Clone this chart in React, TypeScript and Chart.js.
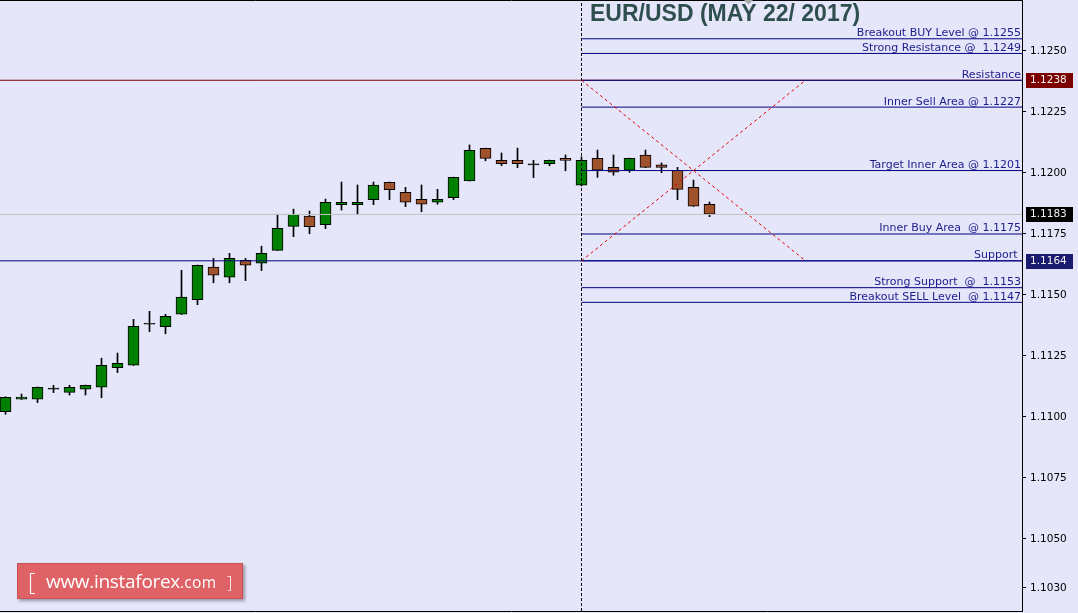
import { useEffect, useRef } from 'react';
import { Chart, registerables } from 'chart.js';

Chart.register(...registerables);

// ---- Candles (index 0..44) ----
const OPEN = [
  1.11022, 1.11073, 1.11073, 1.11114, 1.11101, 1.11114, 1.11122, 1.11202, 1.11212, 1.1138,
  1.1137, 1.11421, 1.11481, 1.11614, 1.11573, 1.11642, 1.1163, 1.11683, 1.11781, 1.11823,
  1.11788, 1.1187, 1.1187, 1.11891, 1.11962, 1.11921, 1.11892, 1.1188, 1.11899, 1.11968,
  1.12101, 1.12052, 1.12052, 1.12033, 1.12038, 1.1206, 1.1195, 1.1206, 1.12023, 1.12012,
  1.12073, 1.12033, 1.12011, 1.11941, 1.11872,
];
const HIGH = [
  1.11083, 1.11094, 1.11123, 1.1113, 1.1113, 1.11131, 1.11241, 1.11262, 1.114, 1.11433,
  1.11421, 1.11601, 1.11623, 1.1165, 1.11671, 1.1165, 1.117, 1.11831, 1.11852, 1.11844,
  1.11893, 1.11963, 1.11951, 1.11963, 1.11963, 1.11941, 1.11951, 1.11933, 1.11983, 1.12115,
  1.12102, 1.12082, 1.12102, 1.12052, 1.12053, 1.12074, 1.12066, 1.12094, 1.12074, 1.12061,
  1.12094, 1.12041, 1.12023, 1.11971, 1.11881,
];
const LOW = [
  1.11011, 1.11072, 1.11059, 1.111, 1.1109, 1.1109, 1.11079, 1.11182, 1.11211, 1.1135,
  1.11341, 1.1142, 1.1146, 1.1155, 1.1155, 1.11559, 1.116, 1.11682, 1.11739, 1.11751,
  1.11772, 1.11848, 1.11829, 1.1187, 1.11891, 1.11862, 1.11841, 1.11872, 1.11891, 1.11967,
  1.1205, 1.1203, 1.12022, 1.11981, 1.1203, 1.12009, 1.11947, 1.11982, 1.11991, 1.12003,
  1.12022, 1.12001, 1.11891, 1.11863, 1.11821,
];
const CLOSE = [
  1.11081, 1.11082, 1.11122, 1.11114, 1.11122, 1.1113, 1.11212, 1.1122, 1.11372, 1.1138,
  1.11413, 1.11491, 1.11622, 1.11581, 1.1165, 1.11622, 1.11671, 1.11773, 1.11831, 1.1178,
  1.1188, 1.1188, 1.1188, 1.1195, 1.11932, 1.1188, 1.11872, 1.11892, 1.11982, 1.12093,
  1.1206, 1.12038, 1.12038, 1.12033, 1.12052, 1.12052, 1.12052, 1.12012, 1.12003, 1.1206,
  1.12023, 1.12023, 1.11933, 1.11864, 1.11831,
];

// ---- Right axis ticks ----
const Y_TICKS = [1.125, 1.1225, 1.12, 1.1175, 1.115, 1.1125, 1.11, 1.1075, 1.105, 1.103];
const Y_MIN = 1.102049;
const Y_MAX = 1.12709;
const X_MIN = -0.34375;
const X_MAX = 63.53125;

// ---- Analysis levels ----
const LEVEL_LABELS = [
  'Breakout BUY Level @ 1.1255',
  'Strong Resistance @  1.1249',
  'Resistance',
  'Inner Sell Area @ 1.1227',
  'Target Inner Area @ 1.1201',
  'Inner Buy Area  @ 1.1175',
  'Support ',
  'Strong Support  @  1.1153',
  'Breakout SELL Level  @ 1.1147',
];
const LEVEL_VALUES = [1.1255, 1.1249, 1.1238, 1.1227, 1.1201, 1.1175, 1.1164, 1.1153, 1.1147];
const RESISTANCE = 1.1238;
const SUPPORT = 1.1164;
const BID = 1.1183;
const MARK_X = 36; // vertical dotted marker / start of level lines
const DIAG_END_X = 50;
const BOX_VALUES = [1.1238, 1.1183, 1.1164];
const BOX_COLORS = ['#7d0000', '#000000', '#1c1c6e'];
const TITLE = 'EUR/USD (MAY 22/ 2017)';

const BG = '#E6E6FA';
const BULL = '#008000';
const BEAR = '#A0522D';
const NAVY = '#000080';

export default function App() {
  const ref = useRef<HTMLCanvasElement>(null);

  useEffect(() => {
    document.body.style.margin = '0';
    const canvas = ref.current!;
    const idx = OPEN.map((_, i) => i);
    const bodyColors = OPEN.map((o, i) => (CLOSE[i] > o ? BULL : CLOSE[i] < o ? BEAR : '#000'));

    const overlay = {
      id: 'overlay',
      afterDraw(chart: any) {
        const { ctx, chartArea, scales } = chart;
        const y = scales.y;
        ctx.save();
        // frame
        ctx.strokeStyle = '#000';
        ctx.lineWidth = 1;
        ctx.beginPath();
        ctx.moveTo(0, chartArea.top + 0.5);
        ctx.lineTo(chartArea.right + 1, chartArea.top + 0.5);
        ctx.moveTo(0, chartArea.bottom + 0.5);
        ctx.lineTo(chartArea.right + 1, chartArea.bottom + 0.5);
        ctx.stroke();

        // shift marker
        ctx.fillStyle = '#a8a8a8';
        ctx.beginPath();
        ctx.moveTo(744, 0);
        ctx.lineTo(753, 0);
        ctx.lineTo(748.5, 4.5);
        ctx.closePath();
        ctx.fill();

        // level labels
        ctx.font = '11px "DejaVu Sans"';
        ctx.fillStyle = '#1c1c8c';
        ctx.textAlign = 'right';
        ctx.textBaseline = 'alphabetic';
        LEVEL_LABELS.forEach((t, i) => {
          const py = y.getPixelForValue(LEVEL_VALUES[i]);
          ctx.fillText(t, chartArea.right - 1, py - 2.5);
        });

        // price boxes on the axis
        ctx.font = '10.5px "DejaVu Sans"';
        ctx.textAlign = 'left';
        ctx.textBaseline = 'middle';
        BOX_VALUES.forEach((v, i) => {
          const py = Math.round(y.getPixelForValue(v));
          ctx.fillStyle = BOX_COLORS[i];
          ctx.fillRect(chartArea.right + 4, py - 7, 47, 15);
          ctx.fillStyle = '#f2f2f2';
          ctx.fillText(v.toFixed(4), chartArea.right + 8, py + 0.5);
        });

        // title
        ctx.font = 'bold 23px "Liberation Sans", Arial, sans-serif';
        ctx.fillStyle = '#2f4f4f';
        ctx.textAlign = 'left';
        ctx.textBaseline = 'alphabetic';
        ctx.fillText(TITLE, 590, 21);
        ctx.restore();
      },
    };

    const lineDs = (data: { x: number; y: number }[], color: string, order: number, dash: number[] = []) => ({
      type: 'line' as const,
      data,
      borderColor: color,
      borderWidth: 1,
      borderDash: dash,
      pointRadius: 0,
      pointHoverRadius: 0,
      fill: false,
      tension: 0,
      order,
    });

    const chart = new Chart(canvas, {
      type: 'bar',
      data: {
        datasets: [
          {
            type: 'bar',
            data: idx.map((i) => ({ x: i, y: [OPEN[i], CLOSE[i]] })) as any,
            backgroundColor: bodyColors,
            borderColor: '#000',
            borderWidth: 1,
            borderSkipped: false,
            barThickness: 11,
            grouped: false,
            minBarLength: 1,
            order: 20,
          } as any,
          {
            type: 'bar',
            data: idx.map((i) => ({ x: i, y: [LOW[i], HIGH[i]] })) as any,
            backgroundColor: '#000',
            borderWidth: 0,
            barThickness: 1,
            grouped: false,
            order: 21,
          } as any,
          lineDs([{ x: X_MIN, y: BID }, { x: X_MAX, y: BID }], '#c0c0c0', 12),
          lineDs([{ x: X_MIN, y: RESISTANCE }, { x: X_MAX, y: RESISTANCE }], '#800000', 11),
          lineDs([{ x: X_MIN, y: SUPPORT }, { x: X_MAX, y: SUPPORT }], NAVY, 11),
          ...LEVEL_VALUES.map((v) => lineDs([{ x: MARK_X, y: v }, { x: X_MAX, y: v }], NAVY, 5)),
          lineDs([{ x: MARK_X, y: RESISTANCE }, { x: DIAG_END_X, y: SUPPORT }], '#e00000', 4, [3, 3]),
          lineDs([{ x: MARK_X, y: SUPPORT }, { x: DIAG_END_X, y: RESISTANCE }], '#e00000', 4, [3, 3]),
          lineDs([{ x: MARK_X, y: Y_MIN }, { x: MARK_X, y: Y_MAX }], '#000', 3, [3, 2]),
        ] as any,
      },
      options: {
        responsive: false,
        devicePixelRatio: 1,
        animation: false,
        events: [],
        layout: { padding: { top: 0, left: 0, right: 0, bottom: 2 } },
        plugins: { legend: { display: false }, tooltip: { enabled: false }, title: { display: false } },
        scales: {
          x: {
            type: 'linear',
            min: X_MIN,
            max: X_MAX,
            offset: false,
            display: false,
          },
          y: {
            type: 'linear',
            position: 'right',
            min: Y_MIN,
            max: Y_MAX,
            beginAtZero: false,
            afterBuildTicks: (scale: any) => {
              scale.ticks = Y_TICKS.map((v) => ({ value: v }));
            },
            afterFit: (scale: any) => {
              scale.width = 56;
              scale.paddingTop = 0;
              scale.paddingBottom = 0;
            },
            grid: { drawOnChartArea: false, drawTicks: true, tickLength: 4, color: '#000' },
            border: { display: true, color: '#000', width: 1 },
            ticks: {
              autoSkip: false,
              padding: 4,
              color: '#000',
              font: { family: 'DejaVu Sans', size: 10.5 },
              callback: (v: any) => Number(v).toFixed(4),
            },
          },
        },
      } as any,
      plugins: [overlay],
    });
    return () => chart.destroy();
  }, []);

  return (
    <div style={{ position: 'absolute', left: 0, top: 0, width: 1078, height: 613, background: BG, overflow: 'hidden' }}>
      <canvas ref={ref} width={1078} height={613} style={{ display: 'block' }} />
      <div
        style={{
          position: 'absolute',
          left: 17,
          top: 563,
          width: 226,
          height: 36,
          boxSizing: 'border-box',
          background: '#de6266',
          border: '1px solid #c95257',
          boxShadow: '2px 2px 3px rgba(0,0,0,0.35)',
          color: '#fff',
          fontFamily: '"Open Sans", "Noto Sans", sans-serif',
          whiteSpace: 'nowrap',
        }}
      >
        <span style={{ position: 'absolute', left: 10, top: 3, fontSize: 23, fontWeight: 300, lineHeight: '28px' }}>[</span>
        <span style={{ position: 'absolute', left: 28, top: 4, fontSize: 19, lineHeight: '26px', letterSpacing: -0.3 }}>
          www.instaforex<span style={{ fontSize: 15.5, letterSpacing: 0.3 }}>.com</span>
        </span>
        <span style={{ position: 'absolute', left: 209, top: 6, fontSize: 17, fontWeight: 300, lineHeight: '24px' }}>]</span>
      </div>
    </div>
  );
}
